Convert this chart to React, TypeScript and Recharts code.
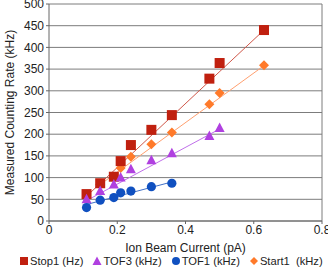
import React from 'react';
import {
  ComposedChart,
  Scatter,
  XAxis,
  YAxis,
  CartesianGrid,
  ReferenceLine,
  Legend,
} from 'recharts';

const stop1X = [0.11, 0.15, 0.19, 0.21, 0.24, 0.3, 0.36, 0.47, 0.5, 0.63];
const stop1Y = [62, 87, 102, 138, 175, 210, 244, 328, 364, 440];
const tof3X = [0.11, 0.15, 0.19, 0.21, 0.24, 0.3, 0.36, 0.47, 0.5];
const tof3Y = [50, 69, 84, 100, 119, 140, 156, 196, 214];
const tof1X = [0.11, 0.15, 0.19, 0.21, 0.24, 0.3, 0.36];
const tof1Y = [31, 48, 54, 65, 69, 79, 87];
const start1X = [0.15, 0.19, 0.21, 0.24, 0.3, 0.36, 0.47, 0.5, 0.63];
const start1Y = [84, 100, 122, 148, 177, 204, 269, 295, 359];

// trendline endpoints
const stop1TrendX = [0.11, 0.63];
const stop1TrendY = [57, 440];
const tof3TrendX = [0.11, 0.5];
const tof3TrendY = [47, 212];
const tof1TrendX = [0.11, 0.36];
const tof1TrendY = [38, 90];
const start1TrendX = [0.15, 0.63];
const start1TrendY = [84, 358];

const xTicks = [0, 0.2, 0.4, 0.6, 0.8];
const yTicks = [0, 50, 100, 150, 200, 250, 300, 350, 400, 450, 500];

const RED = '#c0200f';
const RED_LINE = '#d0584a';
const PURPLE = '#b040e0';
const PURPLE_LINE = '#c070ea';
const BLUE = '#1050c0';
const BLUE_LINE = '#4070c8';
const ORANGE = '#ff7a2a';
const ORANGE_LINE = '#ffa070';
const GRID = '#7c7c7c';

const FONT = '"Liberation Sans", Arial, sans-serif';

function pts(xs: number[], ys: number[]) {
  return xs.map((x, i) => ({ x, y: ys[i] }));
}

const SquareMark = ({ cx, cy }: any) => (
  <rect x={cx - 5} y={cy - 5} width={10} height={10} fill={RED} />
);
const TriMark = ({ cx, cy }: any) => (
  <path d={`M${cx},${cy - 5.5} L${cx + 5},${cy + 4} L${cx - 5},${cy + 4} Z`} fill={PURPLE} />
);
const CircleMark = ({ cx, cy }: any) => <circle cx={cx} cy={cy} r={4.6} fill={BLUE} />;
const DiamondMark = ({ cx, cy }: any) => (
  <path d={`M${cx},${cy - 5} L${cx + 5},${cy} L${cx},${cy + 5} L${cx - 5},${cy} Z`} fill={ORANGE} />
);
const NoMark = () => <g />;

const legendItems = [
  { label: 'Stop1 (Hz)', mark: <rect x={1} y={1} width={8} height={8} fill={RED} /> },
  { label: 'TOF3 (kHz)', mark: <path d="M5,0.5 L9.5,9 L0.5,9 Z" fill={PURPLE} /> },
  { label: 'TOF1 (kHz)', mark: <circle cx={5} cy={5} r={4} fill={BLUE} /> },
  { label: 'Start1\u00a0 (kHz)', mark: <path d="M5,1 L9,5 L5,9 L1,5 Z" fill={ORANGE} /> },
];

function LegendBox() {
  return (
    <div
      style={{
        display: 'flex',
        alignItems: 'center',
        height: 18,
        paddingLeft: 19,
        fontFamily: FONT,
        fontSize: 11.2,
        color: '#222',
        whiteSpace: 'nowrap',
      }}
    >
      {legendItems.map((it) => (
        <span key={it.label} style={{ display: 'flex', alignItems: 'center', marginRight: 9 }}>
          <svg width={10} height={10} style={{ marginRight: 1 }}>
            {it.mark}
          </svg>
          {it.label}
        </span>
      ))}
    </div>
  );
}

export default function App() {
  return (
    <div style={{ position: 'absolute', left: 0, top: 0, width: 328, height: 270, background: '#fff' }}>
      <ComposedChart width={328} height={270} margin={{ top: 4, right: 6, left: 0, bottom: 0 }}>
        <CartesianGrid vertical={false} stroke={GRID} />
        <XAxis
          type="number"
          dataKey="x"
          domain={[0, 0.8]}
          ticks={xTicks}
          interval={0}
          tickFormatter={(v: number) => (v === 0 ? '0' : v.toFixed(1))}
          tick={{ fill: '#222', fontSize: 12, fontFamily: FONT }}
          tickSize={3}
          tickMargin={1}
          stroke="#666"
          height={31}
          label={{
            value: 'Ion Beam Current (pA)',
            position: 'insideBottom',
            offset: 0,
            fill: '#222',
            fontSize: 12,
            fontFamily: FONT,
          }}
        />
        <YAxis
          type="number"
          dataKey="y"
          domain={[0, 500]}
          ticks={yTicks}
          interval={0}
          tick={{ fill: '#222', fontSize: 12, fontFamily: FONT }}
          tickSize={3}
          tickMargin={2}
          stroke="#666"
          width={49}
          label={{
            content: ({ viewBox }: any) => {
              const x = viewBox.x + 10;
              const y = viewBox.y + viewBox.height / 2;
              return (
                <text
                  x={x}
                  y={y}
                  transform={`rotate(-90 ${x} ${y})`}
                  textAnchor="middle"
                  dominantBaseline="central"
                  fill="#222"
                  fontSize={12}
                  fontFamily={FONT}
                >
                  Measured Counting Rate (kHz)
                </text>
              );
            },
          }}
        />
        <ReferenceLine x={0.8} stroke={GRID} />
        <Legend verticalAlign="bottom" content={() => <LegendBox />} />

        <Scatter data={pts(stop1TrendX, stop1TrendY)} line={{ stroke: RED_LINE, strokeWidth: 1 }} shape={NoMark} legendType="none" isAnimationActive={false} />
        <Scatter data={pts(tof3TrendX, tof3TrendY)} line={{ stroke: PURPLE_LINE, strokeWidth: 1 }} shape={NoMark} legendType="none" isAnimationActive={false} />
        <Scatter data={pts(tof1TrendX, tof1TrendY)} line={{ stroke: BLUE_LINE, strokeWidth: 1 }} shape={NoMark} legendType="none" isAnimationActive={false} />
        <Scatter data={pts(start1TrendX, start1TrendY)} line={{ stroke: ORANGE_LINE, strokeWidth: 1 }} shape={NoMark} legendType="none" isAnimationActive={false} />

        <Scatter name="Start1  (kHz)" data={pts(start1X, start1Y)} shape={DiamondMark} isAnimationActive={false} />
        <Scatter name="Stop1 (Hz)" data={pts(stop1X, stop1Y)} shape={SquareMark} isAnimationActive={false} />
        <Scatter name="TOF3 (kHz)" data={pts(tof3X, tof3Y)} shape={TriMark} isAnimationActive={false} />
        <Scatter name="TOF1 (kHz)" data={pts(tof1X, tof1Y)} shape={CircleMark} isAnimationActive={false} />
      </ComposedChart>
    </div>
  );
}
